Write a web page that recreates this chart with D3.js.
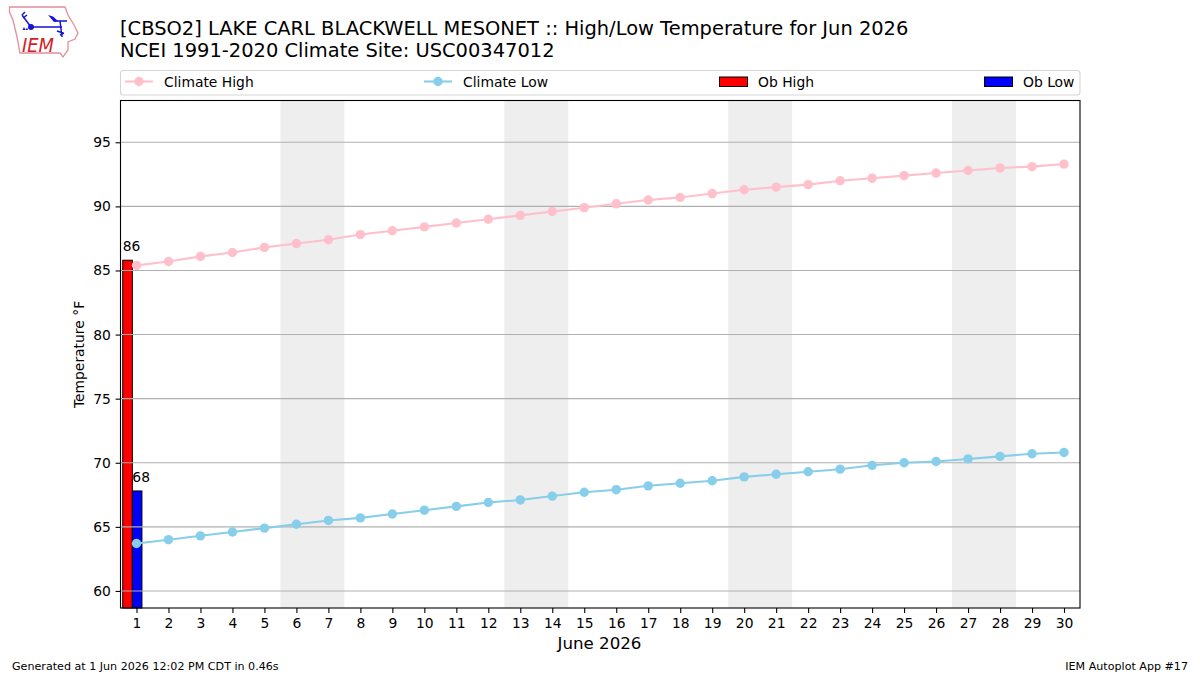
<!DOCTYPE html>
<html>
<head>
<meta charset="utf-8">
<script src="https://cdn.jsdelivr.net/npm/d3@7/dist/d3.min.js"></script>
<style>
html,body{margin:0;padding:0;background:#fff;}
svg{display:block;}
text{font-family:"DejaVu Sans",sans-serif;fill:#000;}
</style>
</head>
<body>
<svg id="chart" width="1200" height="675"></svg>
<script>
const titleLines = ["[CBSO2] LAKE CARL BLACKWELL MESONET :: High/Low Temperature for Jun 2026",
  "NCEI 1991-2020 Climate Site: USC00347012"];
const days = d3.range(1, 31);
const climateHigh = [85.4,85.7,86.1,86.4,86.8,87.1,87.4,87.8,88.1,88.4,88.7,89.0,89.3,89.6,89.9,90.2,90.5,90.7,91.0,91.3,91.5,91.7,92.0,92.2,92.4,92.6,92.8,93.0,93.1,93.3];
const climateLow = [63.7,64.0,64.3,64.6,64.9,65.2,65.5,65.7,66.0,66.3,66.6,66.9,67.1,67.4,67.7,67.9,68.2,68.4,68.6,68.9,69.1,69.3,69.5,69.8,70.0,70.1,70.3,70.5,70.7,70.8];
const obDays = [1];
const obHigh = [85.8];
const obLow = [67.8];
const weekends = [[5.5,7.5],[12.5,14.5],[19.5,21.5],[26.5,28.5]];
const yTicks = [60,65,70,75,80,85,90,95];
const legendItems = [
  {label:"Climate High", kind:"line", color:"pink"},
  {label:"Climate Low", kind:"line", color:"skyblue"},
  {label:"Ob High", kind:"bar", color:"#ff0000"},
  {label:"Ob Low", kind:"bar", color:"#0000ff"}
];

const svg = d3.select("#chart");
const plot = {left:120.5, right:1080, top:100.5, bottom:608};
const x = d3.scaleLinear().domain([0.5,30.5]).range([plot.left,plot.right]);
const y = d3.scaleLinear().domain([58.67,98.26]).range([plot.bottom,plot.top]);

// Weekend shading
svg.append("g").selectAll("rect").data(weekends).join("rect")
  .attr("x",d=>x(d[0])).attr("width",d=>x(d[1])-x(d[0]))
  .attr("y",plot.top).attr("height",plot.bottom-plot.top)
  .attr("fill","#eeeeee");

// Observed bars
const barW = 0.3;
const fmt = d3.format(".0f");
function bars(values, offset, color){
  const g = svg.append("g");
  g.selectAll("rect").data(values).join("rect")
    .attr("x",(d,i)=>x(obDays[i]+offset))
    .attr("width",x(barW)-x(0))
    .attr("y",d=>y(d))
    .attr("height",d=>plot.bottom-y(d))
    .attr("fill",color).attr("stroke","#000").attr("stroke-width",1);
  g.selectAll("text").data(values).join("text")
    .attr("x",(d,i)=>x(obDays[i]+offset))
    .attr("y",d=>y(d)-9)
    .attr("font-size",13.89)
    .text(d=>fmt(d));
}
bars(obHigh,-0.43,"#ff0000");
bars(obLow,-0.13,"#0000ff");

// Horizontal grid, above the bars
svg.append("g").selectAll("line").data(yTicks).join("line")
  .attr("x1",plot.left).attr("x2",plot.right)
  .attr("y1",d=>y(d)).attr("y2",d=>y(d))
  .attr("stroke","#b0b0b0").attr("stroke-width",1.1);

// Climate series
function series(values,color){
  const line = d3.line().x((d,i)=>x(days[i])).y(d=>y(d));
  svg.append("path").attr("d",line(values)).attr("fill","none")
    .attr("stroke",color).attr("stroke-width",2.08);
  svg.append("g").selectAll("circle").data(values).join("circle")
    .attr("cx",(d,i)=>x(days[i])).attr("cy",d=>y(d)).attr("r",4.7)
    .attr("fill",color);
}
series(climateHigh,"pink");
series(climateLow,"skyblue");

// Axes
const xAxis = d3.axisBottom(x).tickValues(days).tickFormat(d3.format("d")).tickSize(4.9).tickPadding(4.8);
const yAxis = d3.axisLeft(y).tickValues(yTicks).tickSize(4.9).tickPadding(4.8);
const gx = svg.append("g").attr("transform",`translate(0,${plot.bottom})`).call(xAxis);
const gy = svg.append("g").attr("transform",`translate(${plot.left},0)`).call(yAxis);
[gx,gy].forEach(g=>{
  g.select(".domain").remove();
  g.selectAll("text").attr("font-size",13.89).attr("font-family","DejaVu Sans");
  g.selectAll("line").attr("stroke","#000").attr("stroke-width",1.1);
});
svg.append("rect").attr("x",plot.left).attr("y",plot.top)
  .attr("width",plot.right-plot.left).attr("height",plot.bottom-plot.top)
  .attr("fill","none").attr("stroke","#000").attr("stroke-width",1.1);

// Axis titles
svg.append("text").attr("x",599.5).attr("y",649).attr("text-anchor","middle")
  .attr("font-size",16.67).text("June 2026");
svg.append("text").attr("transform","translate(84,354.5) rotate(-90)").attr("text-anchor","middle")
  .attr("font-size",13.89).text("Temperature °F");

// Title
svg.selectAll(".title").data(titleLines).join("text").attr("class","title")
  .attr("x",120).attr("y",(d,i)=>35+i*22).attr("font-size",19.44).text(d=>d);

// Legend
svg.append("rect").attr("x",120.5).attr("y",70.5).attr("width",959.5).attr("height",24.5)
  .attr("rx",3).attr("fill","#fff").attr("stroke","#d5d5d5").attr("stroke-width",1.1);
const legendX = [125,424,719,984];
legendItems.forEach((it,i)=>{
  const g = svg.append("g").attr("transform",`translate(${legendX[i]},81.5)`);
  if(it.kind==="line"){
    g.append("line").attr("x1",0).attr("x2",28).attr("stroke",it.color).attr("stroke-width",2.08);
    g.append("circle").attr("cx",14).attr("r",4.7).attr("fill",it.color);
  } else {
    g.append("rect").attr("x",0.5).attr("y",-4.5).attr("width",28).attr("height",9.5)
      .attr("fill",it.color).attr("stroke","#000");
  }
  g.append("text").attr("x",39).attr("y",5).attr("font-size",13.89).text(it.label);
});

// Footer
svg.append("text").attr("x",12).attr("y",670).attr("font-size",11.11).text("Generated at 1 Jun 2026 12:02 PM CDT in 0.46s");
svg.append("text").attr("x",1188).attr("y",670).attr("text-anchor","end").attr("font-size",11.11).text("IEM Autoplot App #17");

// Logo: state outline with a station-model glyph and wordmark
const logo = svg.append("g");
logo.append("path")
  .attr("d","M9.5,7 L65,7 L68,15 L74,25 L78,33 L75,39 L68,42 L68,50 L63,57 L60,53 L20,53 L17,37 L13,20 L9.5,12 Z")
  .attr("fill","#fff").attr("stroke","#e58f97").attr("stroke-width",1.3);
logo.append("path")
  .attr("d","M31,27 L62,27 M60,21 L62,37 M55,21 L67,21 M31,27 L22,15 M22,15 L25,12 M23,18 L27,15 M57,31 L63,33 M60,35 L64,33")
  .attr("stroke","#1414d2").attr("fill","none").attr("stroke-width",1.5);
logo.append("circle").attr("cx",31).attr("cy",27).attr("r",3).attr("fill","#1414d2");
logo.append("path").attr("d","M48,15 L53,16.5 L58,21 L54,22 Z").attr("fill","#1414d2");
logo.append("path").attr("d","M22.5,30 L24,27 L25.5,30 Z M25.5,30 L27,27.5 L28,30 Z").attr("fill","#1414d2");
logo.append("text").attr("x",22).attr("y",52).attr("font-size",20)
  .attr("font-family","Liberation Serif").attr("font-style","italic")
  .attr("textLength",32).attr("lengthAdjust","spacingAndGlyphs")
  .style("fill","#d42027").text("IEM");
</script>
</body>
</html>
